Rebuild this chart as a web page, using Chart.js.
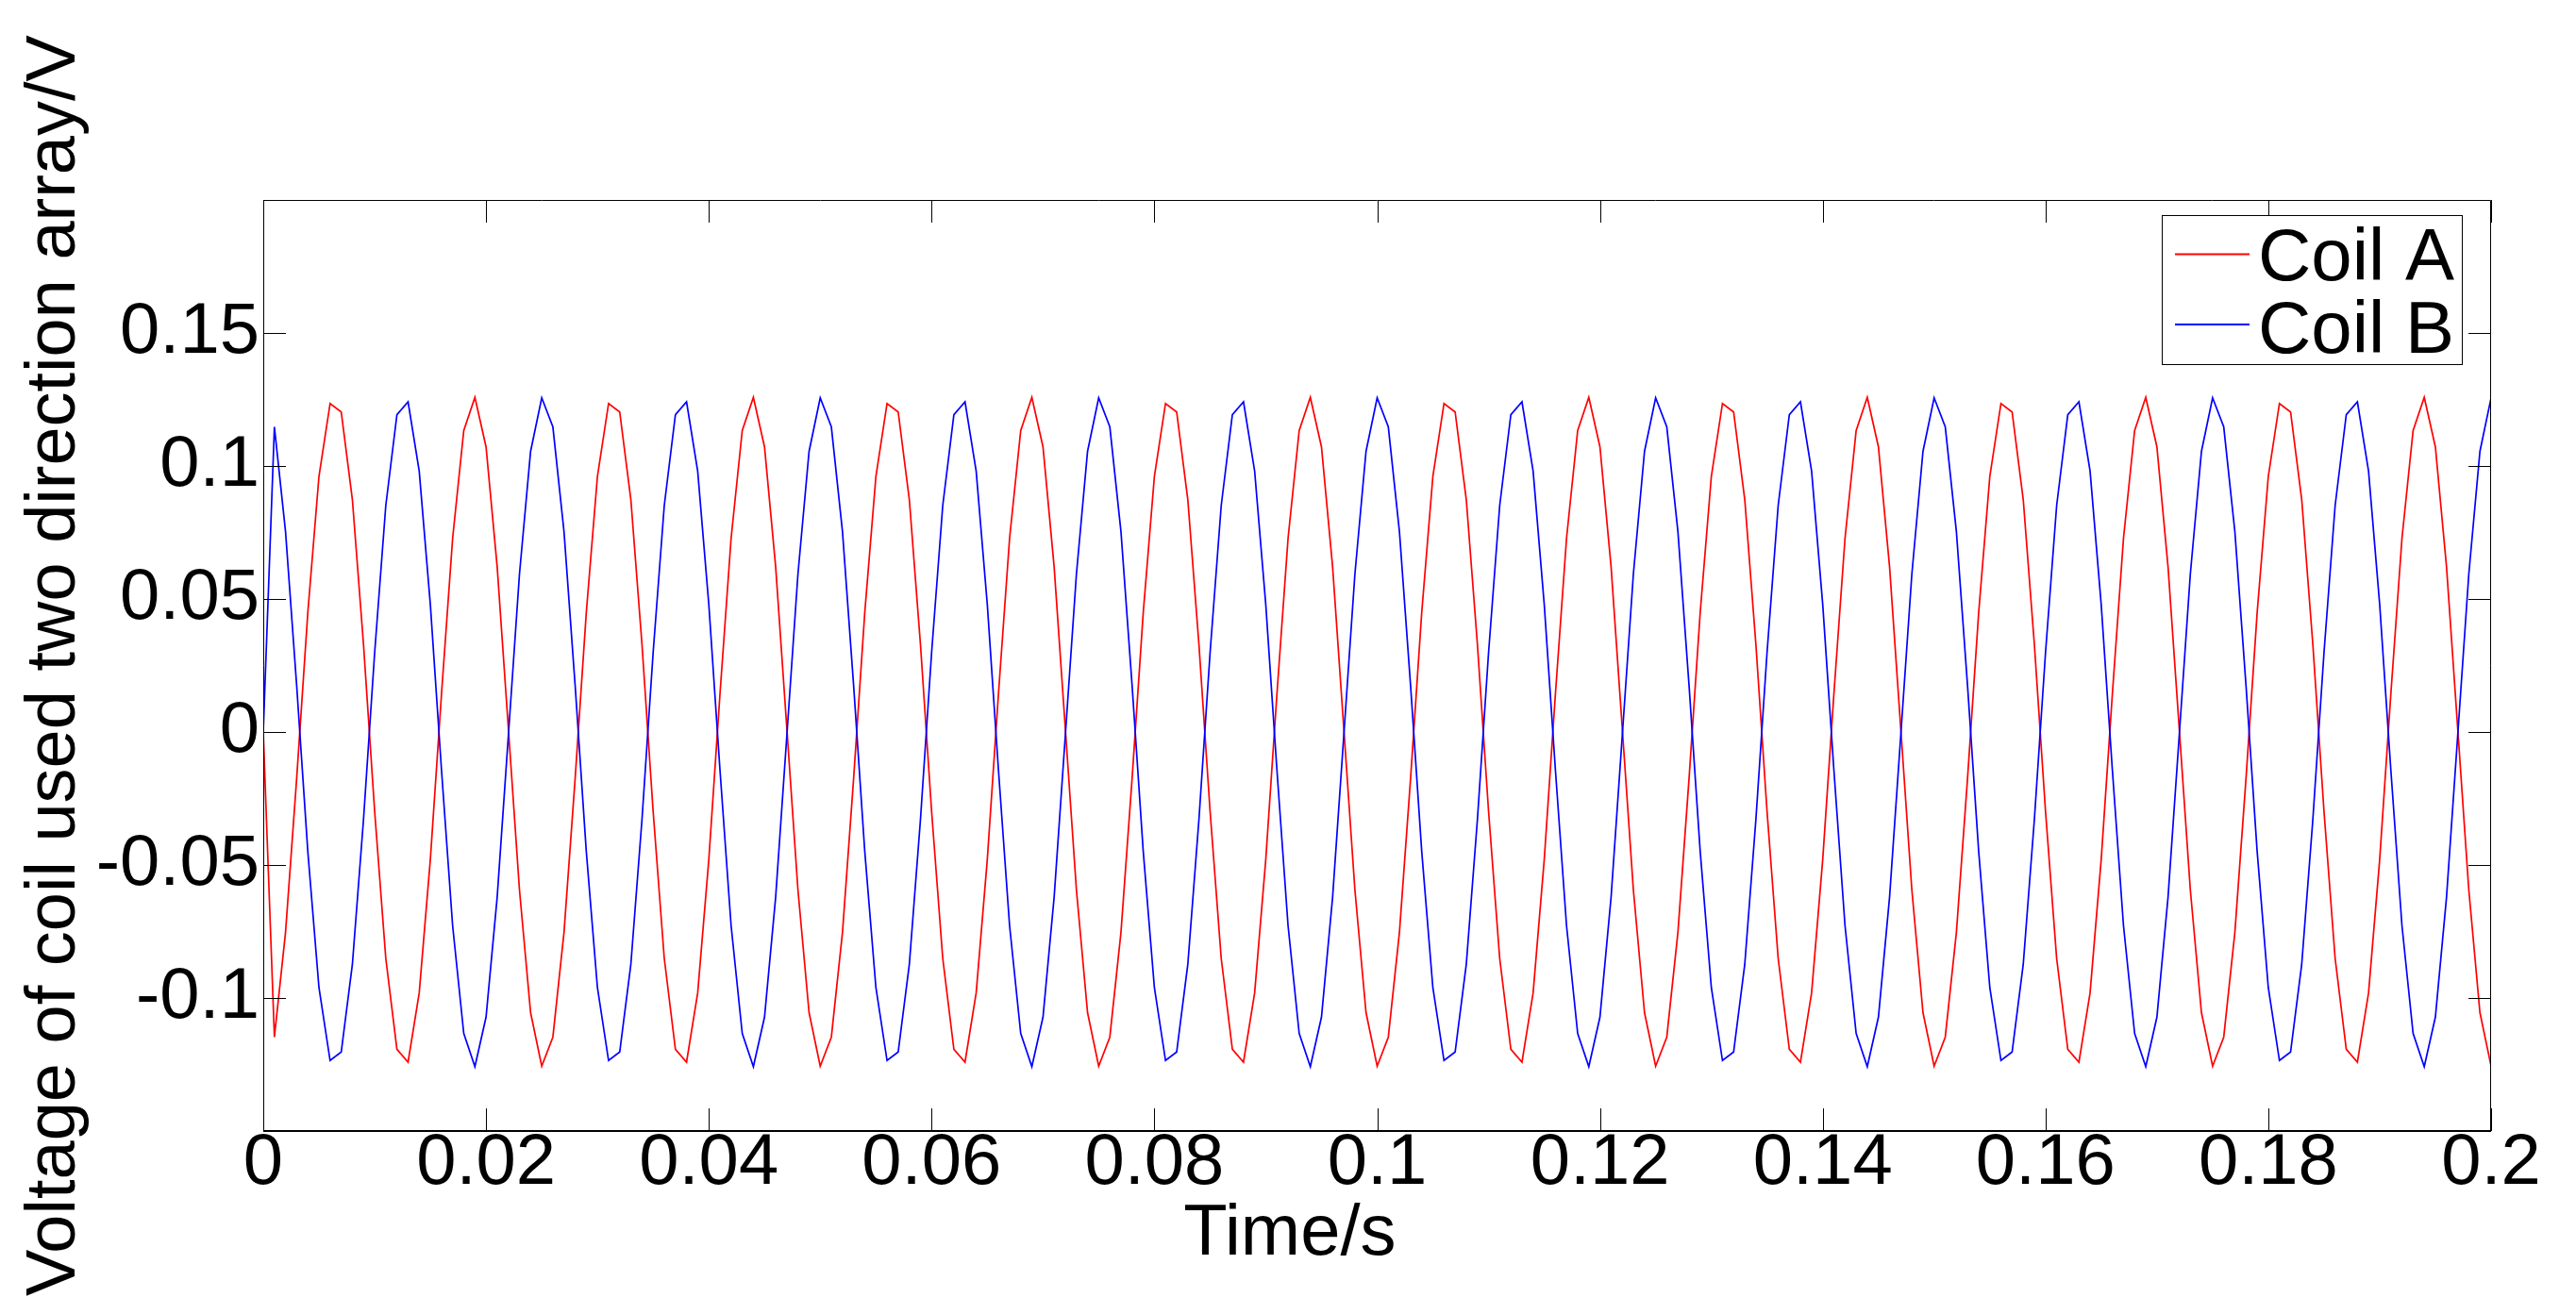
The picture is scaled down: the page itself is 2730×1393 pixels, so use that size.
<!DOCTYPE html>
<html>
<head>
<meta charset="utf-8">
<script src="https://cdn.jsdelivr.net/npm/chart.js@4/dist/chart.umd.min.js"></script>
<style>
  html, body { margin: 0; padding: 0; background: #fff; }
  canvas { display: block; }
</style>
</head>
<body>
<canvas id="c" width="2730" height="1393"></canvas>
<script>
// ---- data ----
const timeS = [
0,
0.001,0.002,0.003,0.004,0.005,0.006,0.007,0.008,0.009,0.010,0.011,0.012,0.013,0.014,0.015,0.016,0.017,0.018,0.019,0.020,0.021,0.022,0.023,0.024,0.025,
0.026,0.027,0.028,0.029,0.030,0.031,0.032,0.033,0.034,0.035,0.036,0.037,0.038,0.039,0.040,0.041,0.042,0.043,0.044,0.045,0.046,0.047,0.048,0.049,0.050,
0.051,0.052,0.053,0.054,0.055,0.056,0.057,0.058,0.059,0.060,0.061,0.062,0.063,0.064,0.065,0.066,0.067,0.068,0.069,0.070,0.071,0.072,0.073,0.074,0.075,
0.076,0.077,0.078,0.079,0.080,0.081,0.082,0.083,0.084,0.085,0.086,0.087,0.088,0.089,0.090,0.091,0.092,0.093,0.094,0.095,0.096,0.097,0.098,0.099,0.100,
0.101,0.102,0.103,0.104,0.105,0.106,0.107,0.108,0.109,0.110,0.111,0.112,0.113,0.114,0.115,0.116,0.117,0.118,0.119,0.120,0.121,0.122,0.123,0.124,0.125,
0.126,0.127,0.128,0.129,0.130,0.131,0.132,0.133,0.134,0.135,0.136,0.137,0.138,0.139,0.140,0.141,0.142,0.143,0.144,0.145,0.146,0.147,0.148,0.149,0.150,
0.151,0.152,0.153,0.154,0.155,0.156,0.157,0.158,0.159,0.160,0.161,0.162,0.163,0.164,0.165,0.166,0.167,0.168,0.169,0.170,0.171,0.172,0.173,0.174,0.175,
0.176,0.177,0.178,0.179,0.180,0.181,0.182,0.183,0.184,0.185,0.186,0.187,0.188,0.189,0.190,0.191,0.192,0.193,0.194,0.195,0.196,0.197,0.198,0.199,0.200
];

const coilA = [
0,
-0.1147,-0.0753,-0.0174,0.0449,0.0961,0.1235,0.1203,0.0874,0.0329,-0.0298,-0.0851,-0.1193,-0.1241,-0.0981,-0.0479,0.0142,0.0728,0.1133,0.1258,0.1072,0.0621,0.0016,-0.0593,-0.1055,-0.1256,
-0.1147,-0.0753,-0.0174,0.0449,0.0961,0.1235,0.1203,0.0874,0.0329,-0.0298,-0.0851,-0.1193,-0.1241,-0.0981,-0.0479,0.0142,0.0728,0.1133,0.1258,0.1072,0.0621,0.0016,-0.0593,-0.1055,-0.1256,
-0.1147,-0.0753,-0.0174,0.0449,0.0961,0.1235,0.1203,0.0874,0.0329,-0.0298,-0.0851,-0.1193,-0.1241,-0.0981,-0.0479,0.0142,0.0728,0.1133,0.1258,0.1072,0.0621,0.0016,-0.0593,-0.1055,-0.1256,
-0.1147,-0.0753,-0.0174,0.0449,0.0961,0.1235,0.1203,0.0874,0.0329,-0.0298,-0.0851,-0.1193,-0.1241,-0.0981,-0.0479,0.0142,0.0728,0.1133,0.1258,0.1072,0.0621,0.0016,-0.0593,-0.1055,-0.1256,
-0.1147,-0.0753,-0.0174,0.0449,0.0961,0.1235,0.1203,0.0874,0.0329,-0.0298,-0.0851,-0.1193,-0.1241,-0.0981,-0.0479,0.0142,0.0728,0.1133,0.1258,0.1072,0.0621,0.0016,-0.0593,-0.1055,-0.1256,
-0.1147,-0.0753,-0.0174,0.0449,0.0961,0.1235,0.1203,0.0874,0.0329,-0.0298,-0.0851,-0.1193,-0.1241,-0.0981,-0.0479,0.0142,0.0728,0.1133,0.1258,0.1072,0.0621,0.0016,-0.0593,-0.1055,-0.1256,
-0.1147,-0.0753,-0.0174,0.0449,0.0961,0.1235,0.1203,0.0874,0.0329,-0.0298,-0.0851,-0.1193,-0.1241,-0.0981,-0.0479,0.0142,0.0728,0.1133,0.1258,0.1072,0.0621,0.0016,-0.0593,-0.1055,-0.1256,
-0.1147,-0.0753,-0.0174,0.0449,0.0961,0.1235,0.1203,0.0874,0.0329,-0.0298,-0.0851,-0.1193,-0.1241,-0.0981,-0.0479,0.0142,0.0728,0.1133,0.1258,0.1072,0.0621,0.0016,-0.0593,-0.1055,-0.1256
];

const coilB = [
0,
0.1147,0.0753,0.0174,-0.0449,-0.0961,-0.1235,-0.1203,-0.0874,-0.0329,0.0298,0.0851,0.1193,0.1241,0.0981,0.0479,-0.0142,-0.0728,-0.1133,-0.1258,-0.1072,-0.0621,-0.0016,0.0593,0.1055,0.1256,
0.1147,0.0753,0.0174,-0.0449,-0.0961,-0.1235,-0.1203,-0.0874,-0.0329,0.0298,0.0851,0.1193,0.1241,0.0981,0.0479,-0.0142,-0.0728,-0.1133,-0.1258,-0.1072,-0.0621,-0.0016,0.0593,0.1055,0.1256,
0.1147,0.0753,0.0174,-0.0449,-0.0961,-0.1235,-0.1203,-0.0874,-0.0329,0.0298,0.0851,0.1193,0.1241,0.0981,0.0479,-0.0142,-0.0728,-0.1133,-0.1258,-0.1072,-0.0621,-0.0016,0.0593,0.1055,0.1256,
0.1147,0.0753,0.0174,-0.0449,-0.0961,-0.1235,-0.1203,-0.0874,-0.0329,0.0298,0.0851,0.1193,0.1241,0.0981,0.0479,-0.0142,-0.0728,-0.1133,-0.1258,-0.1072,-0.0621,-0.0016,0.0593,0.1055,0.1256,
0.1147,0.0753,0.0174,-0.0449,-0.0961,-0.1235,-0.1203,-0.0874,-0.0329,0.0298,0.0851,0.1193,0.1241,0.0981,0.0479,-0.0142,-0.0728,-0.1133,-0.1258,-0.1072,-0.0621,-0.0016,0.0593,0.1055,0.1256,
0.1147,0.0753,0.0174,-0.0449,-0.0961,-0.1235,-0.1203,-0.0874,-0.0329,0.0298,0.0851,0.1193,0.1241,0.0981,0.0479,-0.0142,-0.0728,-0.1133,-0.1258,-0.1072,-0.0621,-0.0016,0.0593,0.1055,0.1256,
0.1147,0.0753,0.0174,-0.0449,-0.0961,-0.1235,-0.1203,-0.0874,-0.0329,0.0298,0.0851,0.1193,0.1241,0.0981,0.0479,-0.0142,-0.0728,-0.1133,-0.1258,-0.1072,-0.0621,-0.0016,0.0593,0.1055,0.1256,
0.1147,0.0753,0.0174,-0.0449,-0.0961,-0.1235,-0.1203,-0.0874,-0.0329,0.0298,0.0851,0.1193,0.1241,0.0981,0.0479,-0.0142,-0.0728,-0.1133,-0.1258,-0.1072,-0.0621,-0.0016,0.0593,0.1055,0.1256
];

const seriesNames = ['Coil A', 'Coil B'];
const xTickValues = [0, 0.02, 0.04, 0.06, 0.08, 0.1, 0.12, 0.14, 0.16, 0.18, 0.2];
const xTickLabels = ['0', '0.02', '0.04', '0.06', '0.08', '0.1', '0.12', '0.14', '0.16', '0.18', '0.2'];
const yTickValues = [-0.1, -0.05, 0, 0.05, 0.1, 0.15];
const yTickLabels = ['-0.1', '-0.05', '0', '0.05', '0.1', '0.15'];
const xTitle = 'Time/s';
const yTitle = 'Voltage of coil used two direction array/V';

// ---- styling ----
const FONT = "'Liberation Sans', Arial, Helvetica, sans-serif";
const TICK_LEN = 24;

const frameAndLegend = {
  id: 'frameAndLegend',
  afterDatasetsDraw(chart) {
    const { ctx, chartArea: a, scales: { x, y } } = chart;
    ctx.save();
    ctx.strokeStyle = '#000';
    ctx.lineWidth = 1;
    ctx.beginPath();
    x.ticks.forEach(t => {
      const px = Math.round(x.getPixelForValue(t.value)) + 0.5;
      ctx.moveTo(px, a.bottom); ctx.lineTo(px, a.bottom - TICK_LEN);
      ctx.moveTo(px, a.top); ctx.lineTo(px, a.top + TICK_LEN);
    });
    y.ticks.forEach(t => {
      const py = Math.round(y.getPixelForValue(t.value)) + 0.5;
      ctx.moveTo(a.left, py); ctx.lineTo(a.left + TICK_LEN, py);
      ctx.moveTo(a.right, py); ctx.lineTo(a.right - TICK_LEN, py);
    });
    ctx.stroke();

    // box
    ctx.beginPath();
    ctx.moveTo(a.left + 0.5, a.bottom);
    ctx.lineTo(a.left + 0.5, a.top + 0.5);
    ctx.lineTo(a.right - 0.5, a.top + 0.5);
    ctx.lineTo(a.right - 0.5, a.bottom);
    ctx.stroke();
    ctx.lineWidth = 2;
    ctx.beginPath();
    ctx.moveTo(a.left, a.bottom);
    ctx.lineTo(a.right, a.bottom);
    ctx.stroke();

    // legend (inside, top right)
    const ds = chart.data.datasets;
    const bx = a.right - 349, by = a.top + 16, bw = 318, bh = 158;
    ctx.fillStyle = '#fff';
    ctx.fillRect(bx, by, bw, bh);
    ctx.lineWidth = 1;
    ctx.strokeStyle = '#000';
    ctx.strokeRect(bx + 0.5, by + 0.5, bw, bh);
    const rows = [41.5, 116];
    const base = [68.5, 146];
    ctx.font = '78px ' + FONT;
    ctx.textAlign = 'left';
    ctx.textBaseline = 'alphabetic';
    ds.forEach((d, i) => {
      ctx.strokeStyle = d.borderColor;
      ctx.lineWidth = 2;
      ctx.beginPath();
      ctx.moveTo(bx + 14, by + rows[i]);
      ctx.lineTo(bx + 93, by + rows[i]);
      ctx.stroke();
      ctx.fillStyle = '#000';
      ctx.fillText(d.label, bx + 102, by + base[i]);
    });

    // x axis title
    ctx.font = '76px ' + FONT;
    ctx.textAlign = 'center';
    ctx.fillStyle = '#000';
    ctx.fillText(xTitle, a.left + 0.4608 * (a.right - a.left), a.bottom + 131);
    ctx.restore();
  }
};

Chart.defaults.color = '#000';
Chart.defaults.font.family = FONT;

new Chart(document.getElementById('c'), {
  type: 'line',
  data: {
    labels: timeS,
    datasets: [
      { label: seriesNames[0], data: coilA, borderColor: '#ff0000', borderWidth: 1.7, pointRadius: 0, tension: 0, fill: false, order: 1 },
      { label: seriesNames[1], data: coilB, borderColor: '#0000ff', borderWidth: 1.7, pointRadius: 0, tension: 0, fill: false, order: 0 }
    ]
  },
  options: {
    responsive: false,
    animation: false,
    devicePixelRatio: 1,
    layout: { padding: { left: 0, right: 90, top: 212, bottom: 0 } },
    plugins: { legend: { display: false }, tooltip: { enabled: false }, title: { display: false } },
    scales: {
      x: {
        type: 'linear',
        min: 0, max: 0.2,
        afterBuildTicks: s => { s.ticks = xTickValues.map(v => ({ value: v })); },
        afterFit: s => { s.height = 194; },
        ticks: {
          autoSkip: false, maxRotation: 0, minRotation: 0, padding: -11,
          font: { size: 76, family: FONT }, color: '#000',
          callback: (v, i) => xTickLabels[i]
        },
        grid: { display: false, drawTicks: false, drawOnChartArea: false },
        border: { display: false },
        title: { display: false }
      },
      y: {
        type: 'linear',
        min: -0.15, max: 0.2,
        afterBuildTicks: s => { s.ticks = yTickValues.map(v => ({ value: v })); },
        afterFit: s => { s.width = 279; },
        ticks: {
          autoSkip: false, padding: 4,
          font: { size: 76, family: FONT }, color: '#000',
          callback: (v, i) => yTickLabels[i]
        },
        grid: { display: false, drawTicks: false, drawOnChartArea: false },
        border: { display: false },
        title: {
          display: true, text: yTitle, color: '#000',
          font: { size: 74, family: FONT },
          padding: { top: 14, bottom: 0 }
        }
      }
    }
  },
  plugins: [frameAndLegend]
});
</script>
</body>
</html>
